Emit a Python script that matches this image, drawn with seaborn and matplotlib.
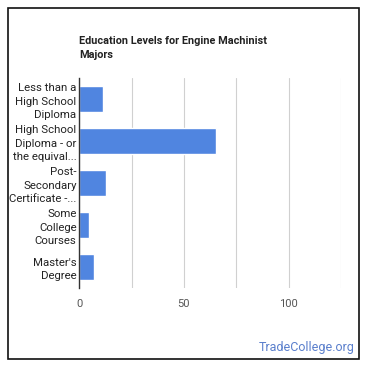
import matplotlib
matplotlib.use("Agg")
import matplotlib.pyplot as plt
import pandas as pd
import seaborn as sns
from matplotlib.patches import Rectangle

# 数据
categories = ["Less than a\nHigh School\nDiploma",
              "High School\nDiploma - or\nthe equival...",
              "Post-\nSecondary\nCertificate -...",
              "Some\nCollege\nCourses",
              "Master's\nDegree"]
values = [11.4, 65.2, 12.9, 4.8, 7.1]
x_ticks = [0, 50, 100]

df = pd.DataFrame({"level": categories, "percent": values})

sns.set_style("white")
plt.rcParams["font.family"] = ["Roboto", "DejaVu Sans"]

fig = plt.figure(figsize=(3.7, 3.7), dpi=100)
ax = fig.add_axes([0.2143, 0.2216, 0.707, 0.5676])

sns.barplot(data=df, x="percent", y="level", color="#5085e0", width=0.64,
            saturation=1, ax=ax, orient="h")

ax.set_xlim(0, 125)
ax.set_xticks([0, 25, 50, 75, 100, 125])
ax.set_xticklabels(["0", "", "50", "", "100", ""])
ax.grid(axis="x", color="#d0d0d0", linewidth=0.8)
ax.set_axisbelow(True)
ax.set_xlabel("")
ax.set_ylabel("")
for s in ["top", "right", "bottom"]:
    ax.spines[s].set_visible(False)
ax.spines["left"].set_color("#333333")
ax.spines["left"].set_linewidth(1)
ax.tick_params(axis="x", length=0, labelsize=8, colors="#555555", pad=8)
ax.tick_params(axis="y", length=0, labelsize=8.2, colors="#222222", pad=2)
for lbl in ax.get_yticklabels():
    lbl.set_linespacing(1.4)

# 标题
fig.text(79 / 370, 1 - 36 / 370, "Education Levels for Engine Machinist\nMajors",
         fontsize=7.8, fontweight="bold", color="#222222", va="top", ha="left",
         linespacing=1.45)

# 水印
fig.text(355 / 370, 1 - 348 / 370, "TradeCollege.org", fontsize=9,
         color="#5a7fcc", ha="right", va="center")

# 外框
fig.patches.append(Rectangle((8 / 370, 11 / 370), 351 / 370, 351 / 370,
                             transform=fig.transFigure, fill=False,
                             edgecolor="#111111", linewidth=1.2))

fig.savefig("out.png", dpi=100)
